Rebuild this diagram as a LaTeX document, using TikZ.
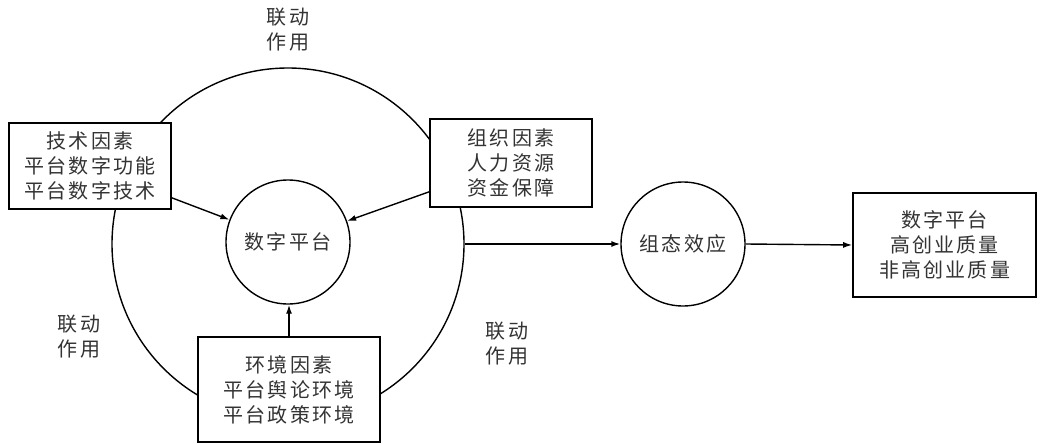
\documentclass[tikz,border=0pt]{standalone}
\usepackage{fontspec}
\setmainfont{Noto Sans CJK SC}[LetterSpace=11]
\usetikzlibrary{arrows.meta}
\begin{document}
\begin{tikzpicture}[x=1pt,y=-1pt,
  txt/.style={font=\fontsize{20}{25}\selectfont, text=black!80, align=center, inner sep=0pt},
  box/.style={txt, draw=black, line width=1.6pt, fill=white},
  ring/.style={txt, circle, draw=black, line width=1.4pt, fill=white},
  arr/.style={line width=1.4pt, -{Latex[length=9pt,width=6pt]}}
]
\useasboundingbox (0,0) rectangle (1041,444);
\node[circle, draw=black, line width=1.4pt, minimum size=352pt, inner sep=0pt] (big) at (288,244) {};
\node[txt] (ltop) at (288,29.5) {联动\\作用};
\node[txt] (lleft) at (79,337) {联动\\作用};
\node[txt] (lright) at (507,343.5) {联动\\作用};
\node[box, minimum width=162pt, minimum height=86pt] (tech) at (90,166) {技术因素\\平台数字功能\\平台数字技术};
\node[box, minimum width=162pt, minimum height=88pt] (org) at (511,163) {组织因素\\人力资源\\资金保障};
\node[box, minimum width=182pt, minimum height=105pt] (env) at (289,389.5) {环境因素\\平台舆论环境\\平台政策环境};
\node[ring, minimum size=124pt] (dp) at (288,242) {数字平台};
\node[ring, minimum size=124pt] (cfg) at (683,244) {组态效应};
\node[box, minimum width=183pt, minimum height=104pt] (res) at (944.5,245) {数字平台\\高创业质量\\非高创业质量};
\draw[arr] ([yshift=12pt]tech.south east) -- (dp);
\draw[arr] ([yshift=16pt]org.south west) -- (dp);
\draw[arr] (env.north) -- (env.north |- dp.south);
\draw[arr] (big.east) -- (cfg.west);
\draw[arr] (cfg.east) -- (res.west);
\end{tikzpicture}
\end{document}
